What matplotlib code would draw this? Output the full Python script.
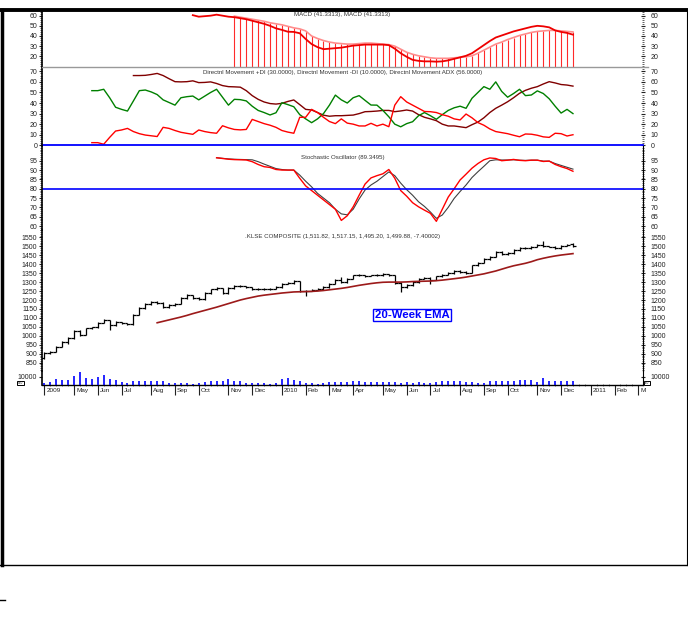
import numpy as np
import matplotlib
matplotlib.use('Agg')
import matplotlib.pyplot as plt
import matplotlib.transforms as mtransforms
from matplotlib.lines import Line2D
from matplotlib.ticker import MultipleLocator, FixedLocator

plt.rcParams['font.family'] = ['Liberation Sans', 'DejaVu Sans']

# weekly bars, Apr 2009 .. Dec 2010 (bar index 0..89)
n_bars = 90

month_ticks = [0, 5, 9, 13, 18, 22, 26, 31, 35, 40, 44, 48, 52, 57, 61, 65, 70, 74, 78, 83, 87, 92, 96, 100]
month_labels = ['2009', 'May', 'Jun', 'Jul', 'Aug', 'Sep', 'Oct', 'Nov', 'Dec', '2010', 'Feb', 'Mar',
                'Apr', 'May', 'Jun', 'Jul', 'Aug', 'Sep', 'Oct', 'Nov', 'Dec', '2011', 'Feb', 'M']

# MACD (from bar 25) and its signal (from bar 32)
macd_start = 25
macd = [60.5, 59, 59.5, 60, 61, 60, 59, 58.5, 57.5, 56.5,
        55, 53.5, 52, 50, 47.5, 46, 44.2, 44, 42.7, 37,
        32, 29, 27, 27.5, 28, 28.5, 29.5, 30.5, 31, 31.5,
        31.5, 31.5, 31.5, 31, 27.5, 23, 19.5, 16.5, 15.5, 15,
        15, 14.7, 15, 16, 17.5, 19, 20.5, 23, 27, 31,
        35, 38.5, 40.5, 42.5, 44.5, 46, 47.5, 49, 50, 49.5,
        48.5, 45.5, 44, 43, 41.3]
signal_start = 32
signal = [59.5, 58.5, 57.5, 56.5, 55.5, 54.5, 53, 52, 51, 49.5,
          48, 47, 45, 40, 37.5, 35.5, 34, 33, 32.5, 32,
          32, 32.5, 33, 33, 32.5, 32, 31.5, 30, 27, 24,
          22, 20.5, 19.5, 18.5, 18, 18, 18, 18.5, 19, 19.5,
          20.5, 23, 26, 29, 32, 34, 36.5, 38.5, 40.5, 42,
          43.5, 44.5, 45, 45.5, 45.5, 45, 44.5, 44]

# Directional movement (+DI, -DI from bar 8, ADX from bar 15)
di_start = 8
plus_di = [51.7, 51.7, 53, 45, 36, 34, 32.4, 42, 51.7, 52.3,
           50.5, 48, 43, 40.5, 38, 45, 46, 46.6, 43, 46.5,
           50, 53, 45.5, 38, 43.5, 43.2, 42, 37, 33, 31,
           28.7, 30.8, 40.3, 38.5, 36.5, 29, 25, 21.4, 25, 30,
           38, 47.5, 43, 40, 45, 47, 42.5, 38.1, 38, 33,
           27, 20, 17.5, 20.5, 22.3, 28, 31, 28, 24.6, 29,
           33, 35.5, 37, 35, 44.5, 50, 55.5, 53, 60, 51,
           45.5, 49, 53, 47, 47.6, 51.5, 49, 44, 37, 30.5,
           34, 30]
minus_di = [2.5, 2.5, 1, 7.5, 13.5, 14.5, 16, 13, 11, 9.7,
            9, 8.3, 17, 16, 14, 12.3, 11.3, 10.4, 14.5, 13,
            12, 11.4, 18.5, 16.5, 15, 14.6, 15, 24.5, 22.5, 20.5,
            19, 17, 14, 12.5, 11.4, 26.5, 26.5, 34, 31, 26.5,
            22.5, 20.5, 25, 21, 20, 18.3, 18.3, 20.8, 18.3, 20,
            17.6, 38, 46, 41, 38, 35, 32, 31.8, 31, 29,
            27.5, 25, 24, 29.6, 26, 21.5, 19, 15.5, 13, 12,
            11, 9.5, 8.1, 10.7, 10.5, 9.5, 8, 7.5, 11.4, 11,
            8.8, 10]
adx_start = 15
adx = [66, 66, 66.2, 67, 68, 66, 63, 60.2, 60, 60.2,
       61, 59.3, 59.5, 60, 58.5, 56.5, 55.5, 55.3, 55, 51.7,
       47, 43.5, 41, 39.5, 39, 39.7, 41.5, 42.9, 38.5, 34,
       33.4, 31, 28.5, 27.5, 28, 28, 28.3, 28.6, 30, 31.8,
       32, 32.4, 33, 33, 31.8, 32.5, 33.4, 32.4, 29, 26.5,
       25, 23.3, 20, 18.3, 18.3, 17.5, 16.7, 19.5, 22, 26,
       31, 35, 38, 41.2, 45, 49.2, 52, 54, 55.5, 58,
       60.2, 59, 57.5, 57, 56]

# Stochastic oscillator (from bar 29)
stoch_start = 29
stoch_k = [96.6, 96.2, 95.8, 95.6, 95.5, 95.4, 94.5, 93, 91.8, 91.4,
           90.3, 90, 90, 90, 85.6, 81.5, 79, 76.5, 74, 71.5,
           69, 63, 65.5, 70.3, 76.5, 82.5, 85.8, 87, 88, 90.3,
           85.6, 79, 76, 72.5, 70.3, 68.5, 66.8, 62.5, 69, 75.5,
           80, 84.7, 87.8, 91, 93.5, 95.5, 96.5, 96.2, 95, 95.3,
           95.7, 95.2, 95, 95.3, 95.3, 94.6, 94.8, 93, 91.8, 90.8,
           89.35]
stoch_d = [96.6, 96.3, 96, 95.8, 95.7, 95.6, 95.5, 94.5, 93.2, 92,
           90.8, 90.3, 90, 90, 87.3, 84, 81, 77.5, 75, 72.5,
           69, 66.5, 66, 69, 74.5, 79.3, 82, 84, 86.5, 89,
           87, 83, 79.5, 76.5, 73, 70.5, 67.5, 64.1, 65.9, 70,
           74.8, 78.5, 82, 86, 89.1, 92, 95, 95.5, 95.4, 95.4,
           95.5, 95.3, 95.2, 95.3, 95.3, 94.8, 94.8, 93.5, 92.5, 91.5,
           90.5]

# KLSE composite weekly OHLC
opens = [878, 905, 912, 940, 965, 990, 1028, 1005, 1042, 1048,
         1073, 1088, 1058, 1078, 1070, 1066, 1118, 1155, 1178, 1190,
         1185, 1160, 1172, 1178, 1210, 1228, 1210, 1204, 1238, 1260,
         1265, 1238, 1266, 1280, 1276, 1270, 1260, 1260, 1262, 1264,
         1272, 1292, 1295, 1304, 1250, 1252, 1258, 1262, 1272, 1292,
         1310, 1298, 1318, 1338, 1338, 1334, 1338, 1337, 1343, 1338,
         1295, 1272, 1284, 1300, 1320, 1325, 1314, 1332, 1340, 1350,
         1362, 1358, 1350, 1395, 1408, 1428, 1442, 1470, 1456, 1462,
         1478, 1490, 1489, 1498, 1507, 1500, 1498, 1488, 1504, 1511.82]
highs = [912, 918, 945, 970, 995, 1032, 1030, 1046, 1052, 1078,
         1095, 1090, 1082, 1080, 1074, 1122, 1160, 1182, 1195, 1192,
         1188, 1175, 1182, 1214, 1232, 1230, 1214, 1242, 1264, 1270,
         1268, 1270, 1284, 1286, 1278, 1272, 1266, 1266, 1268, 1276,
         1296, 1300, 1310, 1306, 1258, 1262, 1266, 1276, 1296, 1316,
         1330, 1322, 1342, 1344, 1342, 1342, 1344, 1350, 1346, 1340,
         1298, 1288, 1304, 1324, 1330, 1328, 1336, 1344, 1354, 1366,
         1366, 1362, 1398, 1412, 1432, 1446, 1474, 1472, 1466, 1482,
         1494, 1494, 1502, 1512, 1530, 1504, 1502, 1508, 1514, 1517.15]
lows = [870, 900, 910, 936, 954, 985, 1000, 1002, 1038, 1044,
        1070, 1030, 1055, 1066, 1060, 1062, 1114, 1150, 1174, 1180,
        1155, 1157, 1168, 1175, 1205, 1206, 1200, 1200, 1234, 1256,
        1234, 1234, 1262, 1272, 1266, 1256, 1256, 1256, 1258, 1260,
        1268, 1288, 1292, 1246, 1222, 1248, 1254, 1258, 1268, 1288,
        1294, 1295, 1315, 1334, 1330, 1332, 1332, 1335, 1334, 1288,
        1245, 1268, 1280, 1297, 1316, 1292, 1310, 1328, 1337, 1346,
        1352, 1346, 1348, 1392, 1405, 1424, 1440, 1452, 1454, 1458,
        1474, 1485, 1486, 1494, 1495, 1494, 1484, 1486, 1500, 1495.2]
closes = [905, 912, 940, 965, 990, 1028, 1005, 1042, 1048, 1073,
          1088, 1058, 1078, 1070, 1066, 1118, 1155, 1178, 1190, 1185,
          1160, 1172, 1178, 1210, 1228, 1210, 1204, 1238, 1260, 1265,
          1238, 1266, 1280, 1276, 1270, 1260, 1260, 1262, 1264, 1272,
          1292, 1295, 1304, 1250, 1252, 1258, 1262, 1272, 1292, 1310,
          1298, 1318, 1338, 1338, 1334, 1338, 1337, 1343, 1338, 1295,
          1272, 1284, 1300, 1320, 1325, 1314, 1332, 1340, 1350, 1362,
          1358, 1350, 1395, 1408, 1428, 1442, 1470, 1456, 1462, 1478,
          1490, 1489, 1498, 1507, 1500, 1498, 1488, 1504, 1507.28, 1499.88]

# 20-week EMA (from bar 19)
ema_start = 19
ema20 = [1073, 1081, 1089, 1097, 1105, 1114, 1124, 1133, 1142, 1151,
         1160, 1170, 1180, 1190, 1200, 1208, 1215, 1222, 1227, 1231,
         1235, 1239, 1242, 1245, 1246, 1247, 1248, 1250, 1253, 1257,
         1261, 1265, 1270, 1276, 1282, 1287, 1292, 1296, 1299, 1300,
         1300, 1300, 1301, 1303, 1304, 1305, 1306, 1308, 1311, 1315,
         1319, 1323, 1328, 1334, 1340, 1346, 1354, 1362, 1372, 1382,
         1391, 1398, 1405, 1414, 1425, 1433, 1440, 1446, 1451, 1455,
         1459]

volume = [2400, 3900, 7400, 6600, 6600, 10900, 15500, 8500, 7800, 9700,
          11600, 7800, 6600, 3900, 3100, 5000, 5000, 5000, 4700, 5000,
          4700, 3100, 2700, 3100, 3100, 2000, 3100, 3900, 5400, 5000,
          5000, 7000, 4700, 5000, 2400, 3100, 2400, 2400, 1600, 2400,
          7000, 8500, 5800, 4700, 3100, 3100, 2000, 3100, 3900, 3900,
          4200, 3900, 5400, 5000, 3900, 3900, 4300, 3900, 3500, 3500,
          3100, 3500, 2700, 3500, 3100, 3100, 3900, 4700, 4700, 4700,
          4700, 3900, 4300, 3100, 3100, 4700, 5400, 5000, 5400, 5400,
          6200, 6600, 6200, 3900, 8500, 4700, 5400, 4700, 4700, 5400]

W, H = 688, 635
XL, XR = 42, 643
fig = plt.figure(figsize=(W / 100, H / 100), dpi=100)
bars = np.arange(n_bars)
TXT = '#222222'


def panel(y_top, y_bot, ylim, major, minor, right_spine=True):
    ax = fig.add_axes([XL / W, 1 - y_bot / H, (XR - XL) / W, (y_bot - y_top) / H])
    ax.set_xlim(-0.39, 100.79)
    ax.set_ylim(*ylim)
    ax.patch.set_alpha(0)
    ax.set_xticks([])
    ax.spines['top'].set_visible(False)
    ax.spines['bottom'].set_visible(False)
    ax.spines['right'].set_visible(False)
    ax.spines['left'].set_linewidth(1.2)
    ax.yaxis.set_major_locator(FixedLocator(major))
    if minor:
        ax.yaxis.set_minor_locator(MultipleLocator(minor))
    ax.tick_params(axis='y', which='major', direction='out', length=2.5, width=0.8,
                   labelsize=5, pad=1, colors=TXT)
    ax.tick_params(axis='y', which='minor', direction='out', length=1.3, width=0.5, colors=TXT)
    sec = ax.secondary_yaxis('right')
    sec.yaxis.set_major_locator(FixedLocator(major))
    if minor:
        sec.yaxis.set_minor_locator(MultipleLocator(minor))
    sec.tick_params(which='major', direction='inout', length=3, width=0.8,
                    labelsize=5, pad=4, colors=TXT)
    sec.tick_params(which='minor', direction='inout', length=1.3, width=0.5, colors=TXT)
    sec.spines['right'].set_visible(right_spine)
    sec.spines['right'].set_linewidth(0.8)
    return ax


def title(ax, s, y=0.985):
    ax.text(0.5, y, s, transform=ax.transAxes, ha='center', va='top',
            fontsize=4.4, color='#333333')


# MACD panel
ax1 = panel(11, 67.3, (9.16, 64.6), [20, 30, 40, 50, 60], 2, right_spine=False)
macd_x = bars[macd_start:]
sig_x = bars[signal_start:]
ax1.vlines(sig_x, 9.16, signal, color='#ff2a2a', lw=0.8)
ax1.plot(sig_x, signal, color='#ff8c8c', lw=1.2)
ax1.plot(macd_x, macd, color='#ee0000', lw=1.3)
title(ax1, 'MACD (41.3313), MACD (41.3313)')

# Directional movement panel
ax2 = panel(67.3, 146, (-0.66, 73.8), [0, 10, 20, 30, 40, 50, 60, 70], 2, right_spine=False)
ax2.plot(bars[adx_start:], adx, color='#800000', lw=1.0)
ax2.plot(bars[di_start:], plus_di, color='#008000', lw=1.0)
ax2.plot(bars[di_start:], minus_di, color='#ff0000', lw=1.0)
ax2.axhline(0, color='#0000ff', lw=1.3, clip_on=False)
title(ax2, 'Directnl Movement +DI (30.0000), Directnl Movement -DI (10.0000), '
           'Directnl Movement ADX (56.0000)', y=0.97)

# Stochastic panel
ax3 = panel(146, 230, (57.86, 102.9), [60, 65, 70, 75, 80, 85, 90, 95], 1)
ax3.plot(bars[stoch_start:], stoch_d, color='#404040', lw=0.8)
ax3.plot(bars[stoch_start:], stoch_k, color='#ff0000', lw=1.0)
ax3.axhline(80, color='#0000ff', lw=1.2)
title(ax3, 'Stochastic Oscillator (89.3495)', y=0.89)

# Price panel
ax4 = panel(230, 371, (803.7, 1590.8), list(range(850, 1551, 50)), 10)
ax4.vlines(bars, lows, highs, color='black', lw=0.9)
ax4.hlines(opens, bars - 0.5, bars, color='black', lw=0.9)
ax4.hlines(closes, bars, bars + 0.5, color='black', lw=0.9)
ax4.plot(bars[ema_start:], ema20, color='#9c1a1a', lw=1.2)
title(ax4, '.KLSE COMPOSITE (1,511.82, 1,517.15, 1,495.20, 1,499.88, -7.40002)', y=0.975)
ax4.text(412, 315, '20-Week EMA',
         transform=mtransforms.Affine2D().scale(1 / W, -1 / H).translate(0, 1) + fig.transFigure,
         ha='center', va='center', fontsize=8.2, fontweight='bold', color='#0000ff',
         bbox=dict(boxstyle='square,pad=0.12', fc='white', ec='#0000ff', lw=1.0))

# Volume panel
ax5 = panel(371, 385.3, (0, 16628), [10000], None)
ax5.vlines(bars, 0, volume, color='#0000ff', lw=1.2, zorder=3)
ax5.spines['bottom'].set_visible(True)
ax5.spines['bottom'].set_linewidth(1.0)
ax5.set_xticks(month_ticks)
ax5.set_xticklabels(month_labels)
ax5.xaxis.set_minor_locator(FixedLocator(list(range(0, 101))))
ax5.tick_params(axis='x', which='major', direction='out', length=7, width=0.8,
                labelsize=4.6, pad=-5, colors=TXT)
ax5.tick_params(axis='x', which='minor', direction='inout', length=2, width=0.4, colors=TXT)
shift = mtransforms.ScaledTranslation(2 / 100, 0, fig.dpi_scale_trans)
for lab in ax5.get_xticklabels():
    lab.set_ha('left')
    lab.set_transform(lab.get_transform() + shift)

for xb in (20.5, 647):
    fig.text(xb / W, 1 - 383 / H, 'x10', fontsize=2.3, ha='center', va='center', color=TXT,
             bbox=dict(boxstyle='square,pad=0.15', fc='white', ec='black', lw=0.7))


def fig_line(x0, y0, x1, y1, **kw):
    fig.add_artist(Line2D([x0 / W, x1 / W], [1 - y0 / H, 1 - y1 / H], transform=fig.transFigure, **kw))


# separators and frame
fig_line(42, 67.3, 648, 67.3, color='#999999', lw=1.0)
fig_line(0, 10, 688, 10, color='black', lw=2.8)
fig_line(1.5, 10, 1.5, 565, color='black', lw=2.5)
fig_line(686.5, 10, 686.5, 565, color='black', lw=0.8)
fig_line(0, 565, 688, 565, color='black', lw=1.0)
fig_line(0, 600, 5, 600, color='black', lw=1.0)

plt.savefig('out.png', dpi=100)
